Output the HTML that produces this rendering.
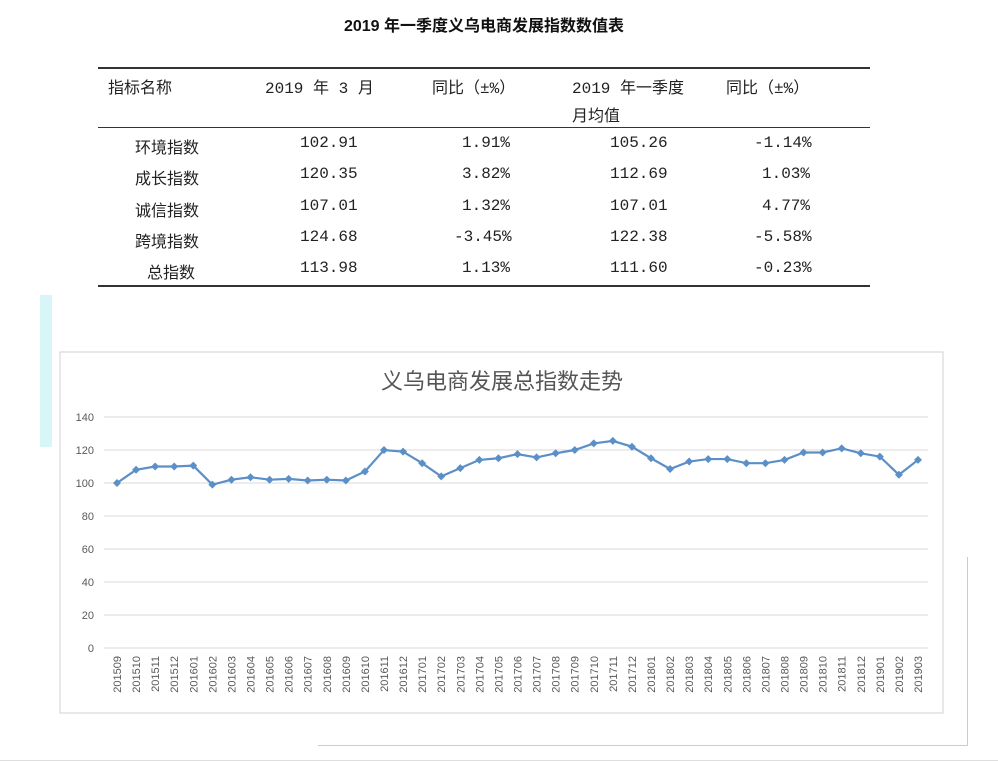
<!DOCTYPE html>
<html><head><meta charset="utf-8"><style>
body{margin:0;width:998px;height:763px;background:#fff;position:relative;overflow:hidden;font-family:"Liberation Sans","Noto Sans CJK SC",sans-serif;}
.a{position:absolute;white-space:nowrap;}
.t{font-family:"Liberation Mono","Noto Sans CJK SC",monospace;font-size:16px;color:#222;}
</style></head><body>
<div class="a" style="left:0;width:968px;top:12px;text-align:center;font-size:16px;font-weight:bold;color:#111">2019 年一季度义乌电商发展指数数值表</div>
<div class="a" style="left:98px;top:67px;width:772px;height:2px;background:#333"></div>
<div class="a" style="left:98px;top:127px;width:772px;height:1px;background:#333"></div>
<div class="a" style="left:98px;top:285px;width:772px;height:2px;background:#333"></div>
<div id="tbl"></div>
<div class="a" style="left:40px;top:295px;width:12px;height:152px;background:#d8f6f8"></div>
<div class="a" style="left:967px;top:557px;width:1px;height:188px;background:#ccc"></div>
<div class="a" style="left:318px;top:745px;width:650px;height:1px;background:#ccc"></div>
<div class="a" style="left:0;top:760px;width:998px;height:1px;background:#ddd"></div>
<svg class="a" style="left:0;top:0" width="998" height="763" id="chart">
<rect x="60" y="352" width="883" height="361" fill="#fff" stroke="#d0d0d0"/>
<text x="502" y="389" text-anchor="middle" font-size="22" fill="#555" font-family="Liberation Sans,Noto Sans CJK SC,sans-serif">义乌电商发展总指数走势</text>
</svg>
<script>
const rows=[["环境指数","102.91","1.91%","105.26","-1.14%"],["成长指数","120.35","3.82%","112.69","1.03%"],["诚信指数","107.01","1.32%","107.01","4.77%"],["跨境指数","124.68","-3.45%","122.38","-5.58%"],["总指数","113.98","1.13%","111.60","-0.23%"]];
const tbl=document.getElementById('tbl');
function txt(s,x,y,cls,name){const d=document.createElement('div');d.className='a '+cls;d.style.left=x+'px';d.style.top=y+'px';d.textContent=s;


tbl.appendChild(d);}
txt("指标名称",108,74,'t','header-name');txt("2019 年 3 月",265,74,'t','header-march');txt("同比（±%）",432,74,'t','header-yoy');txt("2019 年一季度",572,74,'t','header-q1');txt("月均值",572,102,'t','header-q1-avg');txt("同比（±%）",726,74,'t','header-yoy2');
const cx=[135,300,462,610,762];
rows.forEach((r,i)=>{const y=134+i*31.3;r.forEach((c,j)=>{let x=cx[j];if(j==0&&c.length==3)x=147;if(j>0&&c[0]=='-')x-=8;txt(c,x,y,'t','cell');});});
const labels=["201509","201510","201511","201512","201601","201602","201603","201604","201605","201606","201607","201608","201609","201610","201611","201612","201701","201702","201703","201704","201705","201706","201707","201708","201709","201710","201711","201712","201801","201802","201803","201804","201805","201806","201807","201808","201809","201810","201811","201812","201901","201902","201903"];
const values=[100,108,110,110,110.5,99,102,103.5,102,102.5,101.5,102,101.5,107,120,119,112,104,109,114,115,117.5,115.5,118,120,124,125.5,122,115,108.5,113,114.5,114.5,112,112,114,118.5,118.5,121,118,116,105,113.98];
const yTicks=[0,20,40,60,80,100,120,140];
const svg=document.getElementById('chart');const NS='http://www.w3.org/2000/svg';
const yS=v=>648-v*1.65;const xS=i=>117+i*(801/(labels.length-1));
function el(t,a,name){const e=document.createElementNS(NS,t);for(const k in a)e.setAttribute(k,a[k]);


svg.appendChild(e);return e;}
yTicks.forEach(v=>{el('line',{x1:104,x2:928,y1:yS(v),y2:yS(v),stroke:'#d9d9d9'},'gridline');const t=el('text',{x:94,y:yS(v)+4,'text-anchor':'end','font-size':11,fill:'#595959'},'y-tick-label');t.textContent=v;});
labels.forEach((l,i)=>{const t=el('text',{x:0,y:0,transform:`translate(${xS(i)+4},656) rotate(-90)`,'text-anchor':'end','font-size':11,fill:'#595959','font-family':'Liberation Sans,sans-serif'},'x-tick-label');t.textContent=l;});
el('polyline',{points:values.map((v,i)=>xS(i)+','+yS(v)).join(' '),fill:'none',stroke:'#5b8fc7','stroke-width':2.2},'series-line');
values.forEach((v,i)=>{const x=xS(i),y=yS(v);el('path',{d:`M${x} ${y-4}L${x+4} ${y}L${x} ${y+4}L${x-4} ${y}Z`,fill:'#5b8fc7'},'point');});
</script>
</body></html>
